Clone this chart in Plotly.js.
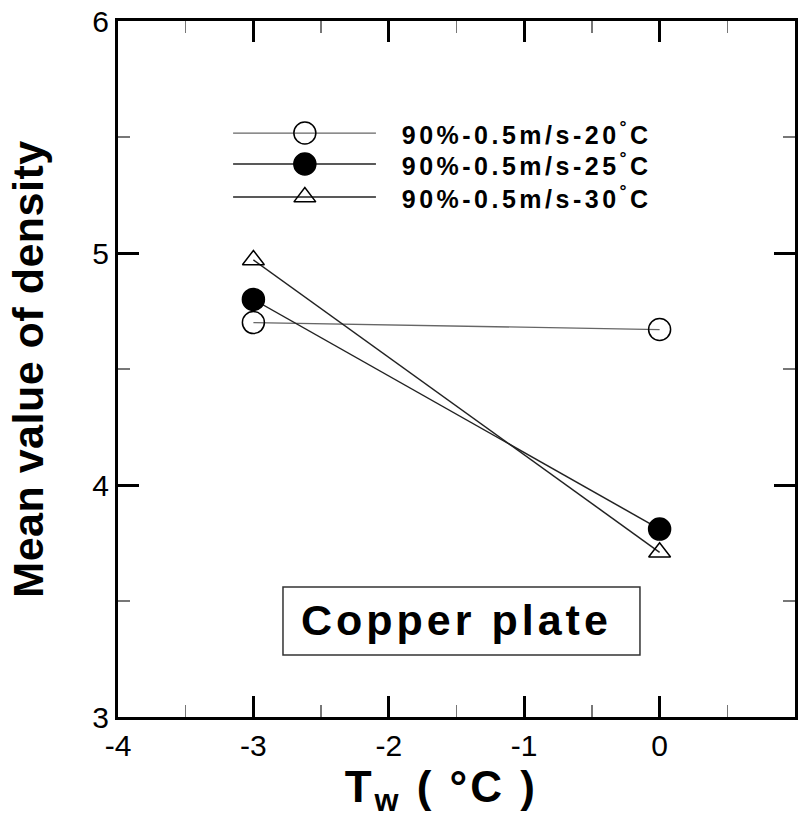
<!DOCTYPE html>
<html>
<head>
<meta charset="utf-8">
<script src="https://cdn.plot.ly/plotly-3.0.1.min.js"></script>
<style>
html,body{margin:0;padding:0;background:#fff;}
#chart{width:798px;height:823px;}
#chart .annotation-text{letter-spacing:3.5px;}
#chart g.annotation[data-index="3"] .annotation-text{letter-spacing:4px;}
#chart .xtitle{letter-spacing:3px;}
#chart .ytitle{letter-spacing:0.5px;}
</style>
</head>
<body>
<div id="chart"></div>
<script>
// ---- data ----
const tw = [-3, 0];
const seriesNames = ['90%-0.5m/s-20<sup>°</sup>C', '90%-0.5m/s-25<sup>°</sup>C', '90%-0.5m/s-30<sup>°</sup>C'];
const density20 = [4.70, 4.67];
const density25 = [4.80, 3.81];
const density30 = [4.97, 3.71];
const xTicks = [-4, -3, -2, -1, 0, 1];
const yTicks = [3, 4, 5, 6];
const boxLabel = 'Copper plate';

// ---- axes ranges ----
const xRange = [-4, 1];
const yRange = [3, 6];

// ---- styles ----
const styles = [
  {symbol: 'circle-open', color: '#000', size: 22, line: '#666', lw: 1.3},
  {symbol: 'circle', color: '#000', size: 22, line: '#222', lw: 1.5},
  {symbol: 'triangle-up-open', color: '#000', size: 19, line: '#222', lw: 1.5}
];
const seriesY = [density20, density25, density30];

const traces = seriesY.map((ys, i) => ({
  x: tw, y: ys, type: 'scatter', mode: 'lines+markers',
  name: seriesNames[i], showlegend: false,
  line: {color: styles[i].line, width: styles[i].lw},
  marker: {symbol: styles[i].symbol, size: styles[i].size, color: styles[i].color,
           line: {color: '#000', width: 1.5}}
}));

// legend samples: positions given as fractions of the plot area, mapped onto the axes
const fx = f => xRange[0] + f * (xRange[1] - xRange[0]);
const fy = f => yRange[0] + f * (yRange[1] - yRange[0]);
const legX = [0.170, 0.381];
const legMid = 0.276;
const legRows = [0.839, 0.7945, 0.747];
seriesNames.forEach((n, i) => {
  traces.push({
    x: legX.map(fx), y: [fy(legRows[i]), fy(legRows[i])],
    type: 'scatter', mode: 'lines', showlegend: false, hoverinfo: 'skip',
    line: {color: styles[i].line, width: styles[i].lw}
  });
  traces.push({
    x: [fx(legMid)], y: [fy(legRows[i])],
    type: 'scatter', mode: 'markers', showlegend: false, hoverinfo: 'skip',
    marker: {symbol: styles[i].symbol, size: styles[i].size, color: styles[i].color,
             line: {color: '#000', width: 1.5}}
  });
});

const annotations = seriesNames.map((n, i) => ({
  xref: 'paper', yref: 'paper', x: 0.603, y: legRows[i],
  xanchor: 'center', yanchor: 'middle', showarrow: false,
  text: '<b>' + n + '</b>',
  font: {family: 'Liberation Sans, Arial, sans-serif', size: 25, color: '#000'}
}));
annotations.push({
  xref: 'paper', yref: 'paper', x: 0.5007, y: 0.140,
  xanchor: 'center', yanchor: 'middle', showarrow: false,
  text: '<b>' + boxLabel + '</b>',
  font: {family: 'Liberation Sans, Arial, sans-serif', size: 43, color: '#000'}
});

const axisCommon = {
  showline: true, linewidth: 3, linecolor: '#000', mirror: 'ticks',
  ticks: 'inside', ticklen: 21, tickwidth: 3, tickcolor: '#000',
  showgrid: false, zeroline: false,
  tickfont: {family: 'Liberation Sans, Arial, sans-serif', size: 30, color: '#000'},
  minor: {ticks: 'inside', ticklen: 12, tickwidth: 1.5, tickcolor: '#777', dtick: 0.5},
  automargin: false
};

const layout = {
  width: 798, height: 823,
  margin: {l: 118, r: 3, t: 21, b: 106},
  paper_bgcolor: '#fff', plot_bgcolor: '#fff',
  showlegend: false,
  xaxis: Object.assign({}, axisCommon, {
    range: xRange, tickvals: xTicks, ticktext: xTicks.map(String),
    title: {text: '<b>T<sub>w</sub> ( °C )&nbsp;&nbsp;</b>', standoff: 10,
            font: {family: 'Liberation Sans, Arial, sans-serif', size: 44, color: '#000'}}
  }),
  yaxis: Object.assign({}, axisCommon, {
    range: yRange, tickvals: yTicks, ticktext: yTicks.map(String),
    title: {text: '<b>Mean value of density</b>', standoff: 36,
            font: {family: 'Liberation Sans, Arial, sans-serif', size: 43, color: '#000'}}
  }),
  shapes: [{
    type: 'rect', xref: 'paper', yref: 'paper',
    x0: 0.2437, x1: 0.771, y0: 0.0891, y1: 0.1868,
    line: {color: '#333', width: 1.5}, fillcolor: 'rgba(0,0,0,0)'
  }],
  annotations: annotations
};

Plotly.newPlot('chart', traces, layout, {displayModeBar: false, staticPlot: true});
</script>
</body>
</html>
